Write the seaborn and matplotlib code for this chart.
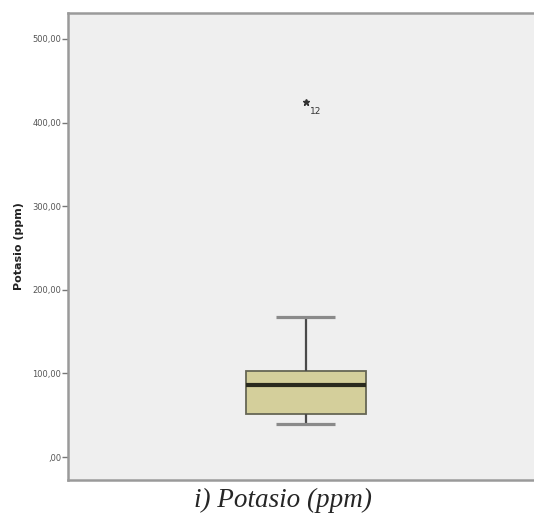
import matplotlib
matplotlib.use("Agg")
import matplotlib.pyplot as plt
import seaborn as sns
import pandas as pd

# Potassium readings per sample (ppm); sample 12 is the extreme value
potasio = [62, 44, 90, 51, 103, 39, 86, 130, 75, 96, 48, 424, 167]
caso = list(range(1, len(potasio) + 1))
ticks = [0, 100, 200, 300, 400, 500]
tick_labels = [",00", "100,00", "200,00", "300,00", "400,00", "500,00"]

df = pd.DataFrame({"caso": caso, "Potasio (ppm)": potasio})

sns.set_style("white")
fig = plt.figure(figsize=(5.34, 5.13), dpi=100)
ax = fig.add_axes([0.1273, 0.0643, 0.8727, 0.9104])
ax.set_facecolor("#efefef")

sns.boxplot(
    data=df, y="Potasio (ppm)", ax=ax, width=0.253,
    color="#d4cf9b", saturation=1, linewidth=1.3, linecolor="#555555",
    whis=1.5,
    boxprops=dict(edgecolor="#666655", linewidth=1.3),
    medianprops=dict(color="#2a2a1e", linewidth=3, solid_capstyle="butt"),
    whiskerprops=dict(color="#4a4a4a", linewidth=1.6),
    capprops=dict(color="#8a8a8a", linewidth=2.3, solid_capstyle="butt"),
    flierprops=dict(marker="*", markersize=4.5, markerfacecolor="#333333",
                    markeredgecolor="#333333"),
    capwidths=0.124,
)

# Case label next to the extreme point
idx = df["Potasio (ppm)"].idxmax()
ax.annotate(str(df.loc[idx, "caso"]), xy=(0, df.loc[idx, "Potasio (ppm)"]),
            xytext=(3, -8), textcoords="offset points", fontsize=6.5, color="#333333")

ax.set_xlim(-0.5, 0.48)
ax.set_ylim(-27.5, 531)
ax.set_yticks(ticks)
ax.set_yticklabels(tick_labels)
ax.set_xticks([])
ax.set_xlabel("")
ax.set_ylabel("Potasio (ppm)", fontsize=8, fontweight="bold", labelpad=6,
              color="#222222")
ax.tick_params(axis="y", length=4, width=1, color="#777777", labelsize=6,
               labelcolor="#555555", left=True, pad=1)

for side in ["left", "top", "bottom"]:
    ax.spines[side].set_color("#9a9a9a")
    ax.spines[side].set_linewidth(1.8)
ax.spines["right"].set_visible(False)

fig.text(0.53, 0.025, "i) Potasio (ppm)", ha="center", va="center",
         fontsize=19.5, style="italic", family="Liberation Serif")

fig.savefig("out.png", dpi=100)
